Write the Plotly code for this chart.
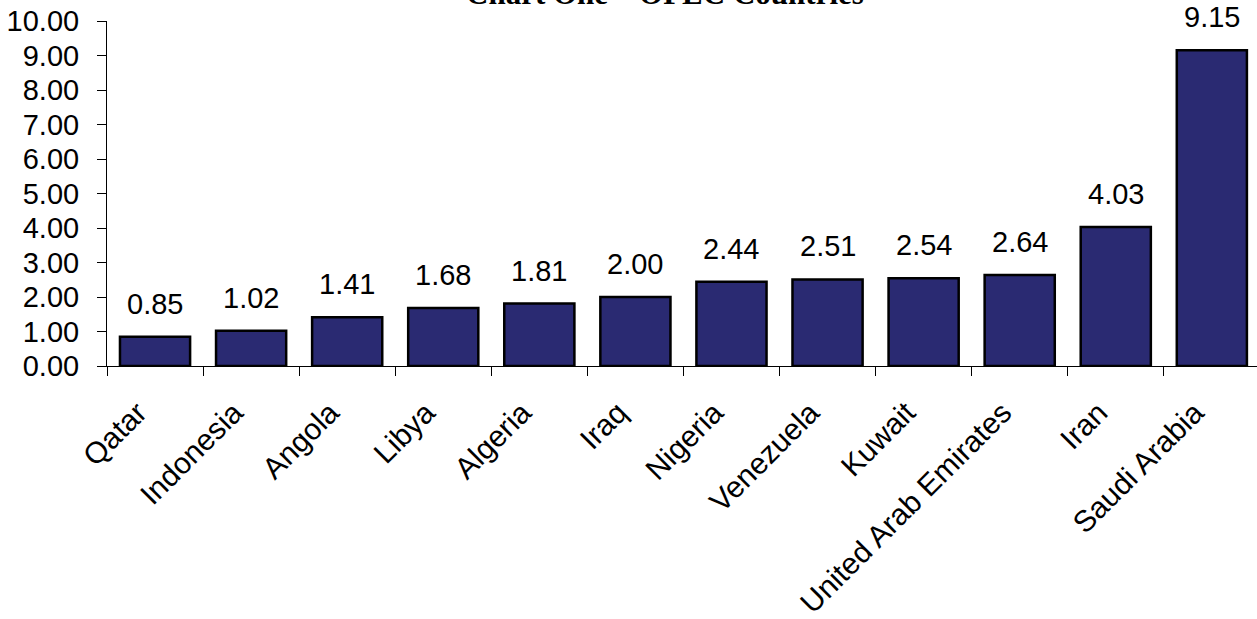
import plotly.graph_objects as go

countries = ["Qatar", "Indonesia", "Angola", "Libya", "Algeria", "Iraq", "Nigeria",
             "Venezuela", "Kuwait", "United Arab Emirates", "Iran", "Saudi Arabia"]
values = [0.85, 1.02, 1.41, 1.68, 1.81, 2.00, 2.44, 2.51, 2.54, 2.64, 4.03, 9.15]
y_ticks = [0, 1, 2, 3, 4, 5, 6, 7, 8, 9, 10]
y_tick_labels = [f"{v:.2f}" for v in y_ticks]

BAR_COLOR = "#2A2A72"
FONT = "Liberation Sans, Arial, sans-serif"

fig = go.Figure()
fig.add_trace(go.Bar(
    x=countries,
    y=values,
    width=0.73,
    marker=dict(color=BAR_COLOR, line=dict(color="#000000", width=2.5)),
    hoverinfo="x+y",
))

# value labels above each bar
for c, v in zip(countries, values):
    fig.add_annotation(
        x=c, y=v, xref="x", yref="y", text=f"{v:.2f}", showarrow=False,
        yanchor="bottom", yshift=15,
        font=dict(family=FONT, size=29, color="#000000"),
    )

# chart title (partially above the page edge)
fig.add_annotation(
    x=0.485, y=1.023, xref="paper", yref="paper", text="<b>Chart One – OPEC Countries</b>",
    showarrow=False, xanchor="center", yanchor="bottom",
    font=dict(family="Liberation Serif, Times New Roman, serif", size=31, color="#000000"),
)

fig.update_layout(
    width=1257, height=619,
    margin=dict(l=107, r=0, t=21, b=253),
    paper_bgcolor="white", plot_bgcolor="white",
    showlegend=False,
    bargap=0.27,
)
fig.update_xaxes(
    type="category",
    range=[-0.5, 11.47],
    automargin=False,
    showline=True, linecolor="#000000", linewidth=1,
    ticks="outside", tickson="boundaries", ticklen=9, tickcolor="#000000",
    tickangle=-45,
    ticklabelstandoff=16, ticklabelshift=-17,
    tickfont=dict(family=FONT, size=30, color="#000000"),
    showgrid=False,
)
fig.update_yaxes(
    range=[0, 10],
    automargin=False,
    tickvals=y_ticks, ticktext=y_tick_labels,
    showline=True, linecolor="#000000", linewidth=1,
    ticks="outside", ticklen=9, tickcolor="#000000",
    ticklabelstandoff=12,
    tickfont=dict(family=FONT, size=29, color="#000000"),
    showgrid=False, zeroline=False,
)

fig.write_html("out.html")
